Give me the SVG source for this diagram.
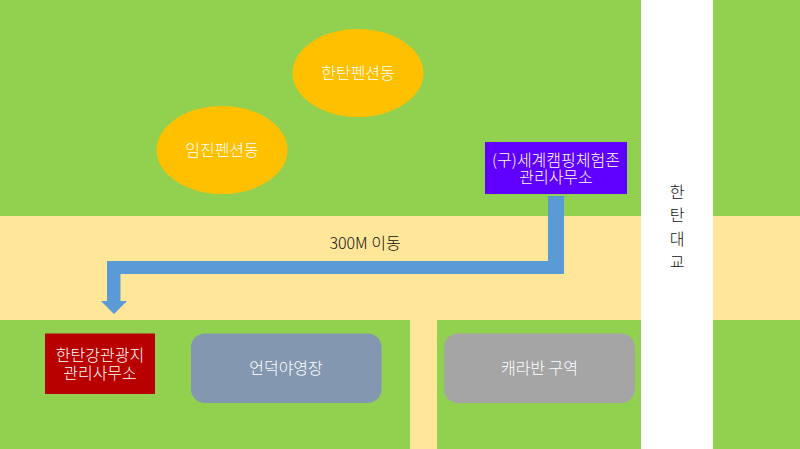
<svg xmlns="http://www.w3.org/2000/svg" width="800" height="449" viewBox="0 0 800 449">
<style>
text{font-family:"Noto Sans CJK KR","Noto Sans",sans-serif;font-size:16px;font-weight:300;text-anchor:middle;fill:#fff}
.d{fill:#111}
</style>
<g id="background">
<rect x="0" y="0" width="800" height="449" fill="#92d050"/>
<rect x="0" y="216" width="800" height="104" fill="#ffe699"/>
<rect x="410" y="320" width="27" height="129" fill="#ffe699"/>
<rect x="641" y="0" width="72" height="449" fill="#fff"/>
</g>
<g id="connectors">
<path id="route-arrow" d="M548 196H564V274H120.500V301H127L114 314L101 301H107V261H548Z" fill="#5b9bd5"/>
<text class="d" x="365" y="249">300M 이동</text>
</g>
<g id="node-hantan-pension">
<ellipse cx="358" cy="73" rx="65.500" ry="44" fill="#ffc000"/>
<text x="358" y="79">한탄펜션동</text>
</g>
<g id="node-imjin-pension">
<ellipse cx="222" cy="150" rx="65.500" ry="44" fill="#ffc000"/>
<text x="222" y="156">임진펜션동</text>
</g>
<g id="node-camping-office">
<rect x="485" y="142" width="142" height="52" fill="#5f00ff"/>
<text x="556" y="166">(구)세계캠핑체험존</text>
<text x="556" y="183">관리사무소</text>
</g>
<g id="node-bridge">
<text class="d" x="677" y="198">한</text>
<text class="d" x="677" y="221">탄</text>
<text class="d" x="677" y="245">대</text>
<text class="d" x="677" y="268">교</text>
</g>
<g id="node-tourism-office">
<rect x="45" y="333.500" width="110" height="60.500" fill="#b80000"/>
<text x="100" y="361">한탄강관광지</text>
<text x="100" y="379">관리사무소</text>
</g>
<g id="node-hill-camp">
<rect x="191" y="333.500" width="190.500" height="69.500" rx="14" fill="#8497b0"/>
<text x="286" y="374">언덕야영장</text>
</g>
<g id="node-caravan">
<rect x="444" y="333.500" width="191" height="69.500" rx="14" fill="#a5a5a5"/>
<text x="539.500" y="374">캐라반 구역</text>
</g>
</svg>
